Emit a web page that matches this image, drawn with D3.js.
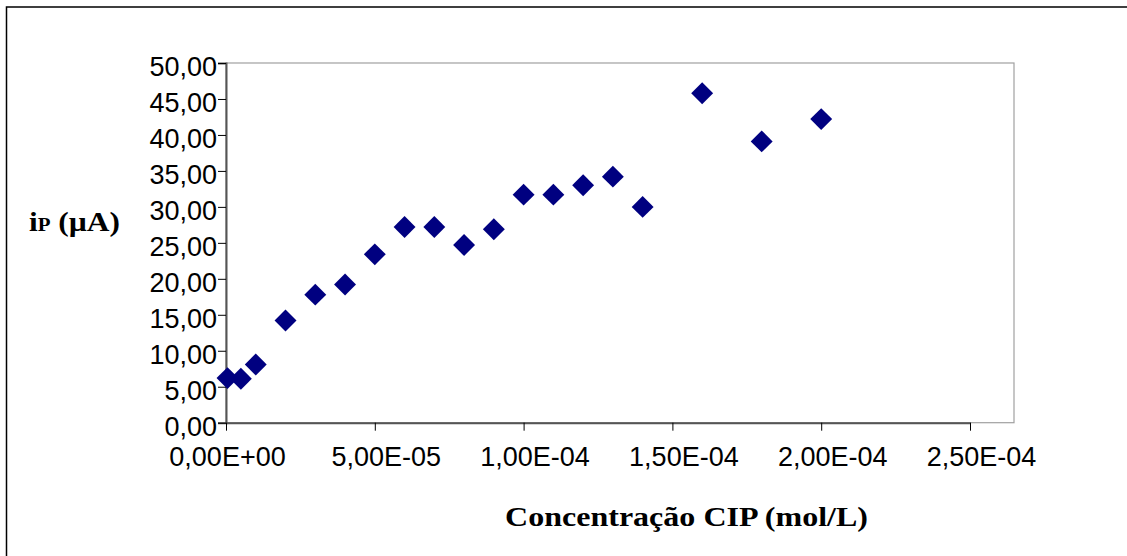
<!DOCTYPE html>
<html>
<head>
<meta charset="utf-8">
<script src="https://cdn.jsdelivr.net/npm/d3@7"></script>
<style>
  body { margin: 0; background: #fff; }
  svg { display: block; }
</style>
</head>
<body>
<svg id="chart" width="1127" height="556"></svg>
<script>
// Data
const concentration = [5e-7, 5e-6, 1e-5, 2e-5, 3e-5, 4e-5, 5e-5, 6e-5, 7e-5, 8e-5, 9e-5, 1.0e-4, 1.1e-4, 1.2e-4, 1.3e-4, 1.4e-4, 1.6e-4, 1.8e-4, 2.0e-4];
const current = [6.2, 6.1, 8.1, 14.2, 17.8, 19.2, 23.4, 27.2, 27.2, 24.7, 26.9, 31.7, 31.7, 33.0, 34.2, 30.0, 45.8, 39.1, 42.2];
const xTicks = [0, 5e-5, 1e-4, 1.5e-4, 2e-4, 2.5e-4];
const xTickLabels = ["0,00E+00", "5,00E-05", "1,00E-04", "1,50E-04", "2,00E-04", "2,50E-04"];
const yTicks = [0, 5, 10, 15, 20, 25, 30, 35, 40, 45, 50];
const yTickLabels = ["0,00", "5,00", "10,00", "15,00", "20,00", "25,00", "30,00", "35,00", "40,00", "45,00", "50,00"];
const xTitle = "Concentração CIP (mol/L)";

const svg = d3.select("#chart");

// Layout
const plot = { left: 226, right: 1014, top: 63, bottom: 422.7 };
const x = d3.scaleLinear().domain([0, 2.5e-4]).range([plot.left, 970]);
const y = d3.scaleLinear().domain([0, 50]).range([plot.bottom, plot.top]);

// Outer chart border
svg.append("rect")
  .attr("x", 6.5).attr("y", 7)
  .attr("width", 1200).attr("height", 600)
  .attr("fill", "#fff").attr("stroke", "#000").attr("stroke-width", 1.5);

// Plot area border (light gray)
svg.append("rect")
  .attr("x", plot.left).attr("y", plot.top)
  .attr("width", plot.right - plot.left).attr("height", plot.bottom - plot.top)
  .attr("fill", "#fff").attr("stroke", "#a0a0a0").attr("stroke-width", 1.2);

// Y axis
const yAxis = d3.axisLeft(y).tickValues(yTicks)
  .tickFormat((d, i) => yTickLabels[i]).tickSize(8).tickPadding(1);
const gy = svg.append("g").attr("transform", `translate(${plot.left},0)`).call(yAxis);
gy.attr("font-size", null);
gy.select(".domain").attr("stroke", "#555").attr("stroke-width", 2);
gy.selectAll(".tick line").attr("stroke", "#000").attr("stroke-width", 1);
gy.selectAll(".tick text")
  .attr("font-family", "Liberation Sans, Arial, sans-serif")
  .attr("font-size", 27).attr("fill", "#000").attr("dy", "0.48em");

// X axis
const xAxis = d3.axisBottom(x).tickValues(xTicks)
  .tickFormat((d, i) => xTickLabels[i]).tickSize(8).tickSizeOuter(0).tickPadding(16);
const gx = svg.append("g").attr("transform", `translate(0,${plot.bottom})`).call(xAxis);
gx.attr("font-size", null);
gx.select(".domain").attr("stroke", "#555").attr("stroke-width", 2);
gx.selectAll(".tick line").attr("stroke", "#000").attr("stroke-width", 1);
gx.selectAll(".tick text")
  .attr("font-family", "Liberation Sans, Arial, sans-serif")
  .attr("font-size", 27).attr("fill", "#000")
  .attr("dx", (d, i) => i === 0 ? 1 : 11);

// Points (diamonds)
const diamond = d3.symbol().type(d3.symbolSquare).size(240);
svg.append("g").selectAll("path")
  .data(concentration.map((c, i) => ({ c, v: current[i] })))
  .join("path")
  .attr("d", diamond)
  .attr("transform", d => `translate(${x(d.c)},${y(d.v)}) rotate(45)`)
  .attr("fill", "#000080");

// Y title: i_P (µA)
const yt = svg.append("text")
  .attr("x", 29).attr("y", 231)
  .attr("textLength", 91).attr("lengthAdjust", "spacingAndGlyphs")
  .attr("font-family", "Liberation Serif, Times New Roman, serif")
  .attr("font-weight", "bold").attr("font-size", 27).attr("fill", "#000");
yt.append("tspan").text("i");
yt.append("tspan").attr("font-size", 18).text("P");
yt.append("tspan").text(" (µA)");

// X title
svg.append("text")
  .attr("x", 505).attr("y", 526)
  .attr("textLength", 363).attr("lengthAdjust", "spacingAndGlyphs")
  .attr("font-family", "Liberation Serif, Times New Roman, serif")
  .attr("font-weight", "bold").attr("font-size", 28).attr("fill", "#000")
  .text(xTitle);
</script>
</body>
</html>
